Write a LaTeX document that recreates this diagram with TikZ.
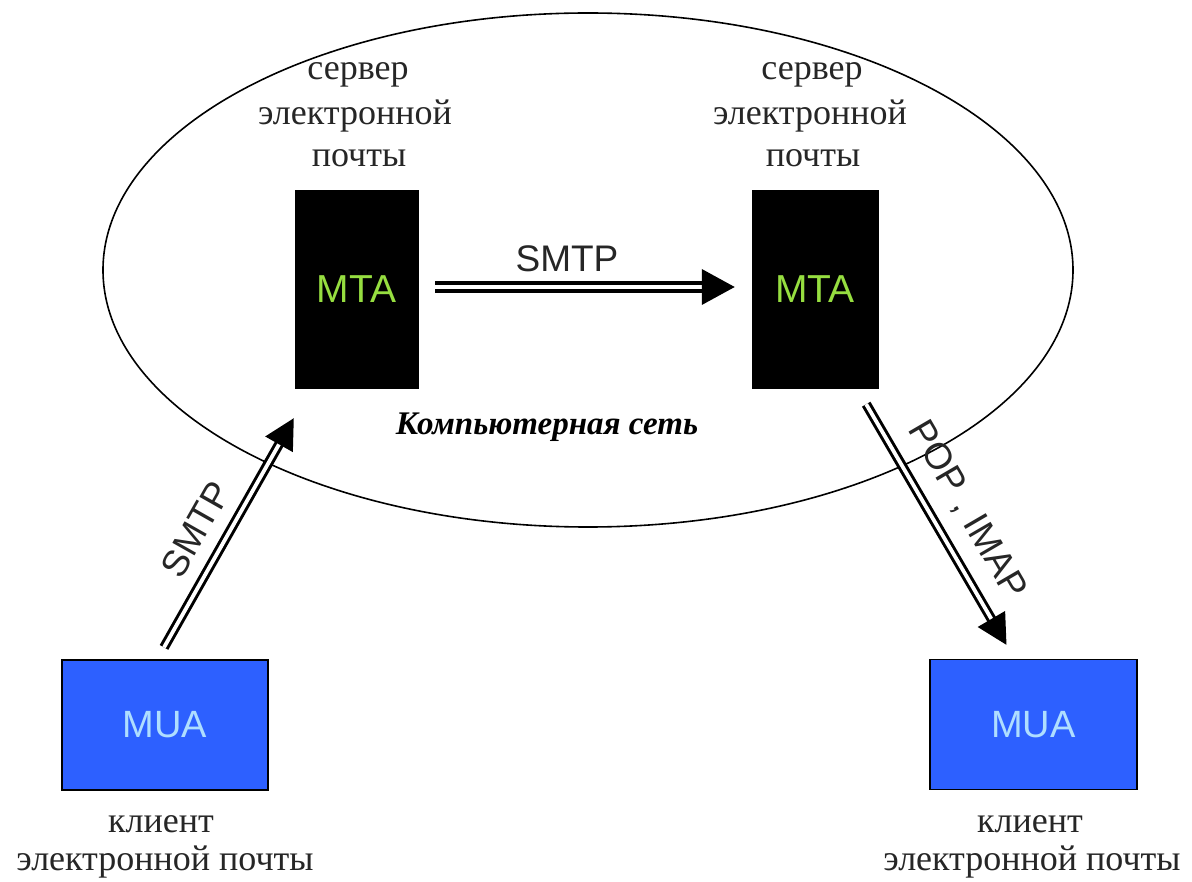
\documentclass[tikz,border=0pt]{standalone}
\usepackage{fontspec}
\setmainfont{Liberation Serif}
\newfontfamily\arialfont{Liberation Sans}
\usetikzlibrary{arrows.meta,shapes.geometric}
\definecolor{mtagreen}{RGB}{150,222,64}
\definecolor{muablue}{RGB}{45,96,255}
\definecolor{mualight}{RGB}{175,222,255}
\tikzset{
  mtabox/.style={fill=black, draw=black, minimum width=123pt, minimum height=198pt, inner sep=0pt,
     text=mtagreen, font=\arialfont\fontsize{39}{39}\selectfont},
  muabox/.style={fill=muablue, draw=black, line width=1.2pt, minimum width=206pt, minimum height=130pt, inner sep=0pt,
     text=mualight, font=\arialfont\fontsize{38}{38}\selectfont},
  lbl/.style={anchor=base, inner sep=0pt, font=\fontsize{36}{36}\selectfont, text=black!85},
  netlbl/.style={inner sep=0pt, font=\bfseries\itshape\fontsize{33}{33}\selectfont},
  proto/.style={inner sep=0pt, font=\arialfont\fontsize{37}{37}\selectfont, text=black!85},
  dblh/.style={double, line width=3.8pt, double distance=4.5pt, -{Triangle[length=33pt,width=35pt]}},
  dbld/.style={double, line width=3pt, double distance=3.8pt, -{Triangle[length=30pt,width=31pt]}},
}
\begin{document}
\begin{tikzpicture}[x=1pt,y=-1pt]
\useasboundingbox (0,0) rectangle (1192,882);
\fill[white] (0,0) rectangle (1192,882);
% network ellipse
\draw[line width=1.6pt] (588,270) ellipse [x radius=485, y radius=257];
\node[netlbl] (net) at (547,427) {Компьютерная сеть};
% servers
\node[mtabox] (mta1) at (356.5,289) {MTA};
\node[mtabox, minimum width=126pt] (mta2) at (815,289) {MTA};
\node[lbl] (s1a) at (358,80) {сервер};
\node[lbl] (s1b) at (355,125) {электронной};
\node[lbl] (s1c) at (359,167) {почты};
\node[lbl] (s2a) at (812,80) {сервер};
\node[lbl] (s2b) at (810,125) {электронной};
\node[lbl] (s2c) at (813,167) {почты};
% clients
\node[muabox] (mua1) at (165,725) {MUA};
\node[muabox, minimum width=207pt] (mua2) at (1033.5,724.5) {MUA};
\node[lbl] (c1a) at (161,832) {клиент};
\node[lbl] (c1b) at (165,870) {электронной почты};
\node[lbl] (c2a) at (1030,832) {клиент};
\node[lbl] (c2b) at (1032,870) {электронной почты};
% arrows
\draw[dblh] ([xshift=17pt,yshift=2pt]mta1.east) -- ([xshift=-17pt,yshift=2pt]mta2.west)
  node[proto, pos=0.44, above=13pt] (p1) {SMTP};
\draw[dbld] ([xshift=-1pt,yshift=12pt]mua1.north) -- ([xshift=-1pt,yshift=-30pt]mta1.south west)
  node[proto, sloped, pos=0.45, above=16pt] (p2) {SMTP};
\draw[dbld] ([xshift=-12pt,yshift=-16pt]mta2.south east) -- ([xshift=-27pt,yshift=14pt]mua2.north)
  node[proto, sloped, pos=0.51, above=17pt] (p3) {POP , IMAP};
\end{tikzpicture}
\end{document}
